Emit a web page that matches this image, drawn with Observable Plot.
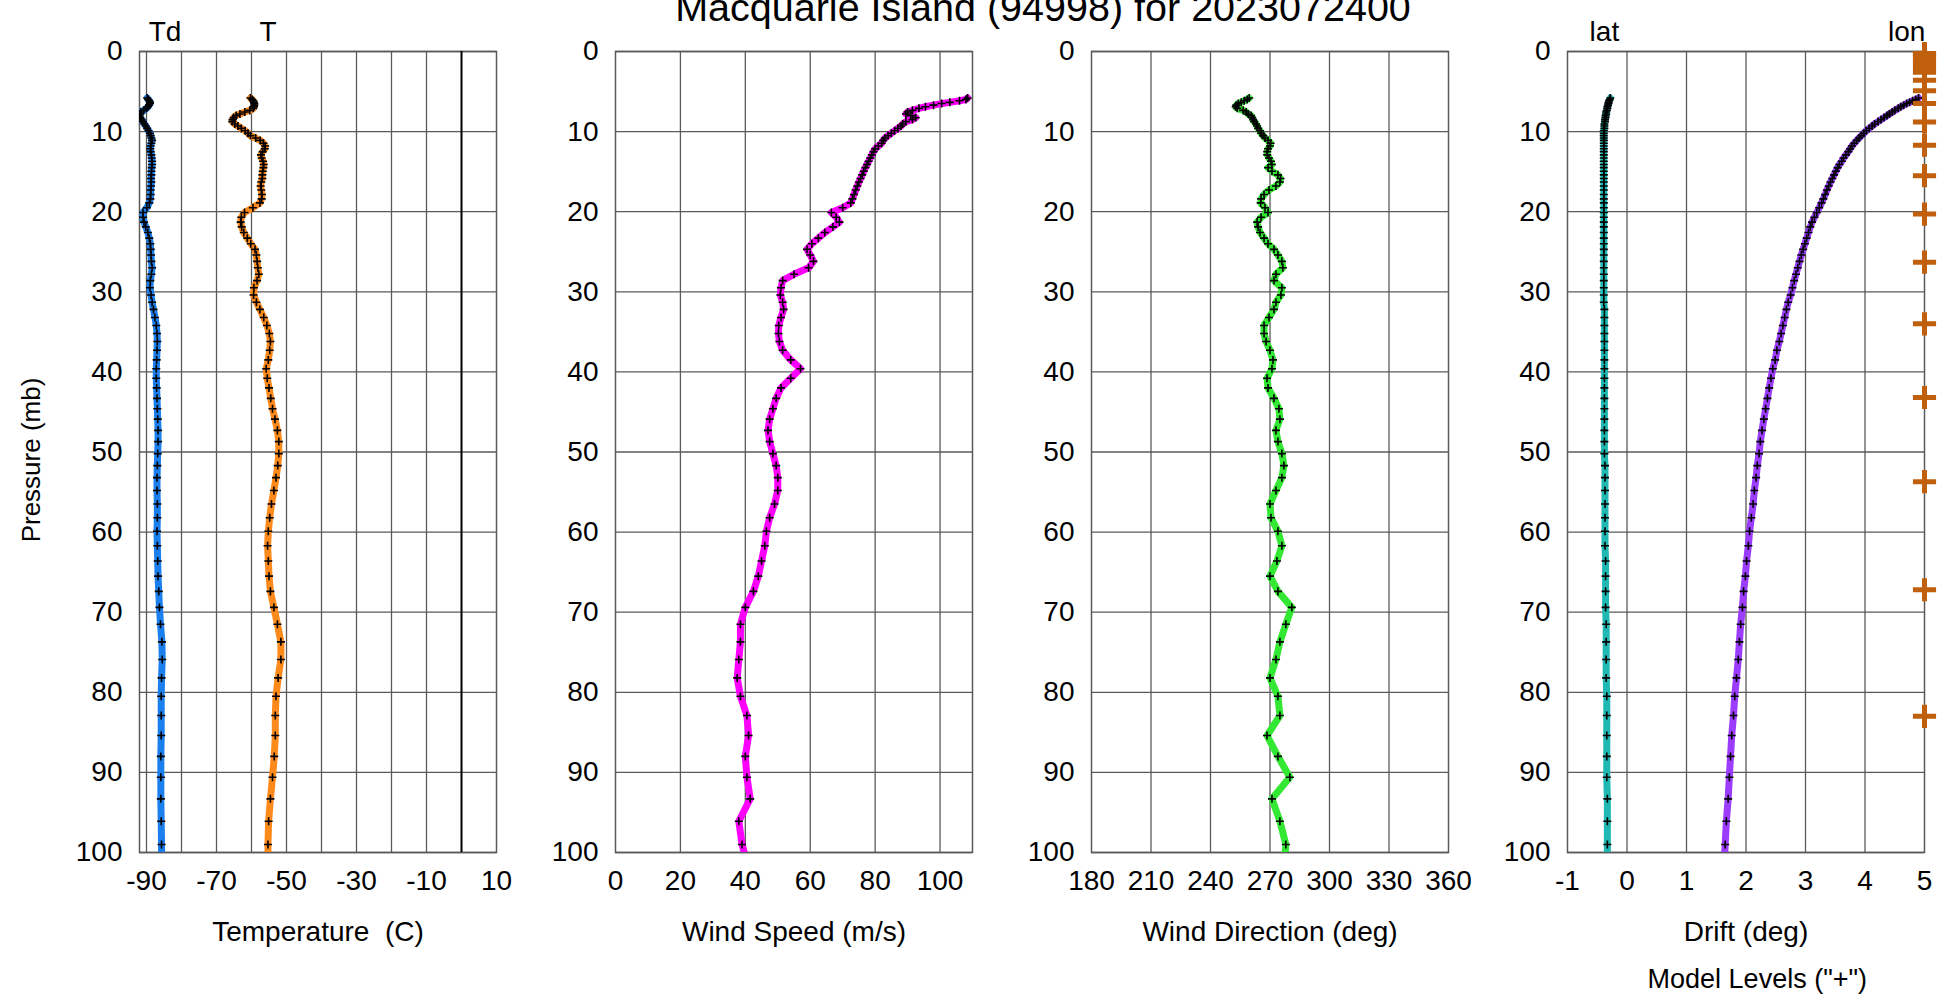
<!DOCTYPE html>
<html>
<head>
<meta charset="utf-8">
<script src="https://cdn.jsdelivr.net/npm/d3@7"></script>
<script src="https://cdn.jsdelivr.net/npm/@observablehq/plot@0.6"></script>
<style>
  html, body { margin: 0; padding: 0; background: #fff; overflow: hidden; }
  #root { position: relative; width: 1946px; height: 1001px; font-family: "Liberation Sans", Arial, sans-serif; }
  .panel { position: absolute; top: 0; }
  #title { position: absolute; top: -13px; left: 1043px; transform: translateX(-50%); white-space: nowrap;
           font-size: 39.5px; line-height: 40px; color: #000; }
</style>
</head>
<body>
<div id="root"><div id="title">Macquarie Island (94998) for 2023072400</div></div>
<script>
// ---- data ----
const pressure = [5.8,6.0,6.15,6.35,6.5,6.7,6.9,7.1,7.35,7.55,7.8,8.0,8.25,8.5,8.75,9.05,9.3,9.6,9.9,10.2,10.5,10.8,11.1,11.45,11.8,12.15,12.5,12.9,13.3,13.7,14.1,14.5,14.95,15.4,15.85,16.3,16.8,17.3,17.85,18.4,18.9,19.5,20.1,20.7,21.3,21.9,22.6,23.3,24.0,24.7,25.4,26.2,27.0,27.8,28.6,29.5,30.4,31.3,32.2,33.2,34.2,35.2,36.2,37.3,38.5,39.6,40.8,42.0,43.3,44.6,45.9,47.3,48.7,50.2,51.7,53.2,54.8,56.5,58.2,59.9,61.7,63.6,65.5,67.4,69.4,71.5,73.7,75.9,78.2,80.5,82.9,85.4,88.0,90.6,93.3,96.1,99.0,102.0];

const dewpoint = [-89.8,-89.5,-89.2,-89.0,-89.0,-89.3,-89.6,-90.0,-90.8,-91.6,-91.9,-92.0,
  -91.8,-91.4,-91.0,-90.6,-90.2,-89.8,-89.4,-89.0,-88.8,-88.6,-88.4,-88.6,
  -88.8,-88.9,-88.8,-88.6,-88.5,-88.4,-88.4,-88.5,-88.6,-88.6,-88.7,-88.6,
  -88.7,-88.8,-88.8,-88.9,-89.2,-89.9,-91.0,-91.0,-90.7,-90.2,-89.6,-89.2,
  -88.9,-88.8,-88.7,-88.6,-88.4,-88.6,-88.9,-89.0,-88.7,-88.4,-88.0,-87.6,
  -87.2,-87.0,-86.9,-87.0,-87.1,-87.2,-87.2,-87.1,-87.0,-86.9,-86.8,-86.7,
  -86.7,-86.8,-86.9,-87.0,-87.0,-86.9,-86.9,-87.0,-86.9,-86.8,-86.7,-86.5,
  -86.3,-86.0,-85.6,-85.5,-85.7,-85.8,-85.8,-85.8,-85.9,-85.9,-85.9,-85.8,-85.7,-85.7];

const temperature = [-60.3,-59.8,-59.5,-59.3,-59.2,-59.2,-59.3,-59.5,-60.5,-61.9,-63.3,-64.4,
  -65.1,-65.4,-65.5,-64.8,-63.9,-62.9,-61.8,-61.0,-60.3,-58.8,-57.5,-56.6,
  -56.1,-56.2,-56.8,-57.3,-57.1,-56.7,-56.5,-56.6,-56.8,-56.9,-56.9,-57.2,
  -57.4,-57.2,-57.0,-57.1,-57.6,-59.6,-62.0,-62.9,-63.1,-62.8,-62.2,-61.2,
  -60.2,-59.0,-58.6,-58.4,-58.2,-57.9,-58.4,-59.3,-59.4,-58.6,-57.6,-56.5,
  -55.6,-54.9,-54.6,-54.8,-55.2,-55.8,-55.5,-55.0,-54.5,-54.0,-53.3,-52.6,
  -52.2,-52.2,-52.5,-53.0,-53.6,-54.3,-54.8,-55.2,-55.4,-55.2,-55.0,-54.6,
  -53.6,-52.6,-51.6,-51.6,-52.4,-53.0,-53.2,-53.2,-53.5,-54.0,-54.6,-55.1,-55.3,-55.3];

const windSpeed = [108.5,108,106,103,100.5,98,95.5,93.5,91.5,90,89.5,91,
  92.5,91.5,89.5,88.5,88,87,86,85,84,83,82.5,82,
  81,80,79.5,79,78.5,78,77.5,77,76.5,76,75.5,75,
  74.5,74,73.5,73,72.5,70,66.5,68,69,67,64.5,62.5,
  60.5,59,60,61,59.5,55,51.5,51,50.8,51.5,51.8,51,
  50.3,50.2,50.5,51.5,54,57,54,51,49.5,48.5,47.5,47,
  47.5,48.5,49.5,50,50,49,47.5,46.5,46,45,44,42.5,
  40,38.5,38.5,38,37.5,38.5,40.5,41,40,40.5,41.5,38,39,41];

const windDirection = [259.5,258.5,257,255.5,254,253,252.7,253.5,256.5,258,259,260.5,
  261,261.5,262,263,263.5,264,265,265.5,266.5,267.5,269,270.3,
  270,269,268.6,268.6,269.5,270.5,271,269,271,274,275.3,275,
  273,269.5,267,265.5,265.3,267.5,269,265.5,263.5,264,265,267,
  269,272,274,276,276.5,273,272,276,275.5,273,272,269.5,
  267,267,268,270,271.5,271,268.5,269,272,274.5,275,273,
  274,276,277,276,273,270,270.5,274,276,273.5,270,274,
  281,278,275,273,270,274,275,268.5,274,280,271,275,278,277];

const driftLat = [-0.28,-0.29,-0.30,-0.31,-0.31,-0.32,-0.33,-0.33,-0.34,-0.35,-0.35,-0.36,
  -0.36,-0.37,-0.37,-0.38,-0.38,-0.38,-0.39,-0.39,-0.39,-0.39,-0.39,-0.39,
  -0.39,-0.39,-0.39,-0.39,-0.39,-0.39,-0.39,-0.39,-0.39,-0.39,-0.39,-0.39,
  -0.39,-0.39,-0.39,-0.39,-0.39,-0.39,-0.39,-0.39,-0.39,-0.39,-0.39,-0.39,
  -0.39,-0.39,-0.39,-0.39,-0.39,-0.39,-0.39,-0.39,-0.39,-0.39,-0.38,-0.38,
  -0.38,-0.38,-0.38,-0.38,-0.38,-0.38,-0.38,-0.38,-0.38,-0.38,-0.38,-0.38,
  -0.38,-0.38,-0.37,-0.37,-0.37,-0.37,-0.37,-0.37,-0.37,-0.36,-0.36,-0.36,
  -0.36,-0.35,-0.35,-0.35,-0.35,-0.34,-0.34,-0.34,-0.34,-0.34,-0.33,-0.33,-0.33,-0.33];

const driftLon = [4.90,4.85,4.80,4.75,4.70,4.65,4.60,4.56,4.50,4.46,4.41,4.37,
  4.32,4.27,4.22,4.16,4.12,4.07,4.02,3.98,3.94,3.90,3.86,3.82,
  3.78,3.75,3.72,3.68,3.64,3.61,3.57,3.54,3.51,3.48,3.45,3.42,
  3.39,3.36,3.33,3.30,3.27,3.23,3.19,3.15,3.11,3.08,3.05,3.02,
  2.99,2.96,2.93,2.90,2.87,2.84,2.81,2.78,2.75,2.71,2.68,2.65,
  2.62,2.59,2.56,2.52,2.49,2.45,2.42,2.39,2.36,2.33,2.30,2.27,
  2.24,2.22,2.19,2.17,2.14,2.12,2.09,2.06,2.04,2.01,1.99,1.96,
  1.94,1.91,1.89,1.87,1.84,1.81,1.79,1.76,1.74,1.72,1.70,1.67,1.65,1.63];

const modelLevels = [0.25,0.6,1.0,1.5,2.0,2.6,3.6,4.9,6.5,8.8,11.7,15.5,20.3,26.3,34.0,43.2,53.7,67.2,83.0];

const pressureTicks = [0,10,20,30,40,50,60,70,80,90,100];
const tempTicks = [-90,-70,-50,-30,-10,10];
const speedTicks = [0,20,40,60,80,100];
const dirTicks = [180,210,240,270,300,330,360];
const driftTicks = [-1,0,1,2,3,4,5];

// ---- build table ----
const rows = pressure.map((p, i) => ({
  p, td: dewpoint[i], t: temperature[i], ws: windSpeed[i], wd: windDirection[i],
  lat: driftLat[i], lon: driftLon[i]
}));

const FONT = '"Liberation Sans", Arial, sans-serif';
const GRID = "#5a5a5a";
const INNER = 357, MT = 51, MB = 149, MR = 22;

function profileMarks(key, color) {
  return [
    Plot.line(rows, {x: key, y: "p", stroke: color, strokeWidth: 7, strokeLinejoin: "round", strokeLinecap: "round", clip: true}),
    Plot.dot(rows, {x: key, y: "p", symbol: "plus", r: 2.7, stroke: "#000", strokeWidth: 1.6, clip: true})
  ];
}

function panel({left, marginLeft, xDomain, xTicks, xGrid, xLabel, marks}) {
  const chart = Plot.plot({
    width: marginLeft + INNER + MR,
    height: 1001,
    marginLeft, marginRight: MR, marginTop: MT, marginBottom: MB,
    style: {fontFamily: FONT, fontSize: "28px", color: "#000", background: "transparent", overflow: "visible"},
    x: {domain: xDomain, ticks: xTicks, tickSize: 0, tickPadding: 18, label: null, tickFormat: d => String(d)},
    y: {domain: [0, 100], reverse: true, ticks: pressureTicks, tickSize: 0, tickPadding: 17, label: null, tickFormat: d => String(d)},
    marks: [
      Plot.ruleX(xGrid, {stroke: GRID, strokeWidth: 1.3}),
      Plot.ruleY(pressureTicks, {stroke: GRID, strokeWidth: 1.3}),
      Plot.frame({stroke: GRID, strokeWidth: 1.5}),
      Plot.text([xLabel], {frameAnchor: "bottom", dy: 88, text: d => d, fontSize: 28}),
      ...marks
    ]
  });
  chart.classList.add("panel");
  chart.style.left = (left - marginLeft) + "px";
  document.getElementById("root").appendChild(chart);
}

// Panel 1: temperature
panel({
  left: 139, marginLeft: 139,
  xDomain: [-92, 10], xTicks: tempTicks,
  xGrid: [-90,-80,-70,-60,-50,-40,-30,-20,-10],
  xLabel: "Temperature  (C)",
  marks: [
    Plot.ruleX([0], {stroke: "#000", strokeWidth: 2}),
    Plot.text(["Pressure (mb)"], {frameAnchor: "left", textAnchor: "middle", dx: -108, dy: 8, rotate: -90, text: d => d, fontSize: 26}),
    Plot.text([{name: "Td", x: -84.7}, {name: "T", x: -55.3}], {x: "x", text: "name", frameAnchor: "top", dy: -30, fontSize: 28}),
    ...profileMarks("td", "#1c7fee"),
    ...profileMarks("t", "#ff8a1c")
  ]
});

// Panel 2: wind speed
panel({
  left: 615, marginLeft: 80,
  xDomain: [0, 110], xTicks: speedTicks,
  xGrid: [20,40,60,80,100],
  xLabel: "Wind Speed (m/s)",
  marks: [...profileMarks("ws", "#ff00ff")]
});

// Panel 3: wind direction
panel({
  left: 1091, marginLeft: 80,
  xDomain: [180, 360], xTicks: dirTicks,
  xGrid: [210,240,270,300,330],
  xLabel: "Wind Direction (deg)",
  marks: [...profileMarks("wd", "#33e833")]
});

// Panel 4: drift
panel({
  left: 1567, marginLeft: 80,
  xDomain: [-1, 5], xTicks: driftTicks,
  xGrid: [0,1,2,3,4],
  xLabel: "Drift (deg)",
  marks: [
    Plot.text([{name: "lat", x: -0.38}, {name: "lon", x: 4.70}], {x: "x", text: "name", frameAnchor: "top", dy: -30, fontSize: 28}),
    Plot.text(['Model Levels ("+")'], {x: () => 2.19, frameAnchor: "bottom", dy: 135, text: d => d, fontSize: 27}),
    ...profileMarks("lat", "#1fb8b2"),
    ...profileMarks("lon", "#9b3cff"),
    Plot.dot(modelLevels, {x: () => 5, y: d => d, symbol: "plus", r: 7.5, stroke: "#c0600f", strokeWidth: 5})
  ]
});
</script>
</body>
</html>
